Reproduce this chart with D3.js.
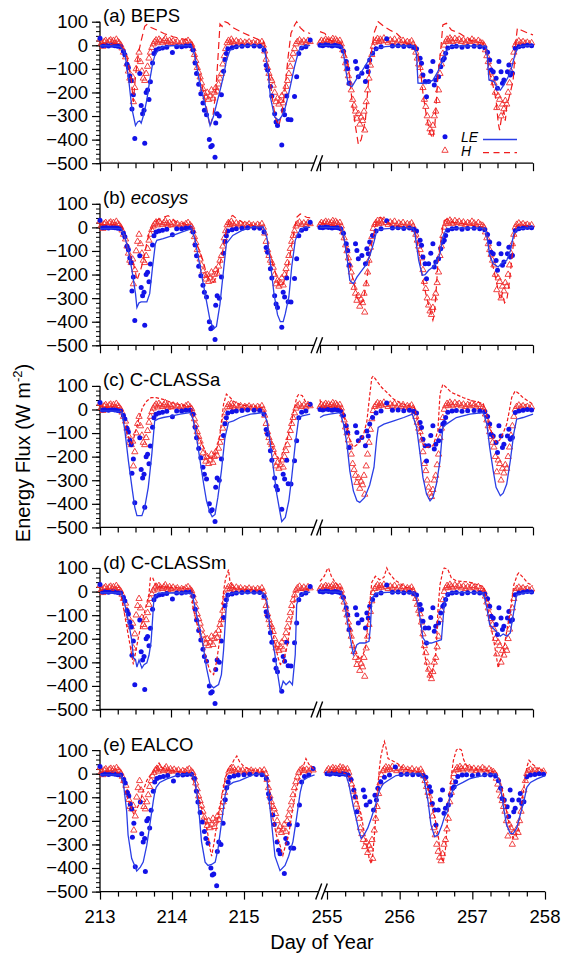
<!DOCTYPE html>
<html>
<head>
<meta charset="utf-8">
<script src="https://cdn.jsdelivr.net/npm/d3@7"></script>
<style>
  body { margin: 0; background: #fff; }
  text { font-family: "Liberation Sans", Arial, sans-serif; }
</style>
</head>
<body>
<svg id="chart" width="563" height="960"></svg>
<script>
// ---- data: [day of year, flux W m-2] ----
var dayTicks = [213, 214, 215, 255, 256, 257, 258];
var fluxTicks = [100, 0, -100, -200, -300, -400, -500];

// observed latent heat (dots), same in every panel
var obsLE = [
  [213.00,30],[213.04,-2],[213.08,0],[213.12,-3],[213.17,0],[213.21,-2],[213.25,-4],[213.29,-6],[213.33,-25],
  [213.35,-40],[213.38,-80],[213.40,-95],[213.42,-130],[213.44,-150],[213.45,-270],[213.47,-210],[213.49,-395],
  [213.56,-120],[213.58,-255],[213.60,-290],[213.62,-275],[213.63,-415],[213.65,-200],[213.67,-190],[213.69,-230],
  [213.71,-155],[213.74,-75],[213.76,-35],[213.79,-20],[213.83,-15],[213.88,-12],[213.94,-8],[214.02,-31],[214.08,-6],
  [214.15,-6],[214.21,-3],[214.27,-2],
  [214.31,-20],[214.34,-75],[214.36,-120],[214.39,-165],[214.42,-205],[214.45,-245],[214.47,-275],[214.50,-295],
  [214.54,-400],[214.56,-430],[214.58,-425],[214.62,-475],[214.63,-330],[214.65,-290],[214.68,-300],[214.71,-210],
  [214.74,-110],[214.76,-60],[214.78,-35],[214.80,-15],[214.86,-10],[214.92,-6],[215.00,-4],[215.08,-2],[215.17,-3],[215.25,-4],
  [215.31,-20],[215.34,-85],[215.36,-105],[215.40,-175],[215.42,-215],[215.46,-290],[215.48,-325],[215.50,-340],
  [215.56,-423],[215.58,-275],[215.60,-295],[215.63,-215],[215.65,-315],[215.69,-316],[215.74,-217],[215.77,-133],
  [215.80,-35],[215.84,-12],[215.90,-6],[215.96,22],
  [255.00,0],[255.04,-2],[255.08,2],[255.12,0],[255.17,-3],[255.21,0],[255.25,-2],[255.29,-6],[255.33,-25],
  [255.37,-69],[255.39,-98],[255.41,-161],[255.50,-69],[255.52,-98],[255.54,-133],[255.59,-119],[255.64,-154],
  [255.66,-91],[255.68,-112],[255.70,-62],[255.74,-34],[255.79,-15],[255.86,-6],[255.94,28],
  [256.02,-3],[256.10,-2],[256.18,-5],[256.26,-3],[256.32,-8],
  [256.36,-15],[256.41,-55],[256.43,-76],[256.45,-126],[256.48,-154],[256.50,-218],[256.53,-154],[256.56,-110],
  [256.59,-69],[256.61,-168],[256.63,-147],[256.67,-133],[256.70,-91],[256.73,-62],[256.75,-55],[256.77,-34],
  [256.80,-12],[256.86,-6],[256.92,-4],[257.00,-8],[257.08,-5],[257.17,-4],[257.25,-6],[257.32,-10],
  [257.36,-30],[257.39,-62],[257.41,-105],[257.44,-112],[257.48,-140],[257.50,-182],[257.52,-69],[257.55,-112],
  [257.57,-161],[257.59,-147],[257.64,-112],[257.66,-84],[257.68,-126],[257.71,-119],[257.75,-13],[257.80,-6],
  [257.86,-3],[257.92,0],[257.98,-2]
];

// observed sensible heat (triangles), same in every panel
var obsH = [
  [213.00,25],[213.02,8],[213.04,-5],[213.06,15],[213.08,20],[213.10,10],[213.13,18],[213.15,22],[213.17,12],[213.19,20],
  [213.21,8],[213.23,25],[213.25,15],[213.27,10],[213.29,2],[213.31,-12],
  [213.33,-30],[213.36,-50],[213.38,-80],[213.40,-110],[213.42,-140],[213.44,-150],[213.46,-135],[213.47,-240],[213.49,-180],
  [213.51,-100],[213.53,-60],[213.55,-30],[213.57,-70],[213.59,-110],[213.61,-140],[213.63,-150],[213.65,-120],[213.67,-90],
  [213.69,-55],[213.71,-30],[213.73,-10],[213.75,5],
  [213.77,15],[213.79,22],[213.81,10],[213.83,25],[213.85,18],[213.88,12],[213.90,20],[213.92,28],[213.94,15],[213.96,8],
  [213.98,20],[214.00,12],[214.03,18],[214.06,10],[214.09,15],[214.12,5],[214.15,12],[214.18,8],[214.21,15],[214.24,20],
  [214.27,10],[214.29,3],
  [214.31,-15],[214.33,-40],[214.35,-65],[214.37,-95],[214.39,-115],[214.41,-135],[214.43,-160],[214.45,-185],[214.47,-205],
  [214.49,-220],[214.51,-200],[214.53,-230],[214.55,-215],[214.57,-190],[214.59,-225],[214.61,-200],[214.63,-180],[214.65,-195],
  [214.67,-165],[214.69,-140],[214.71,-120],[214.73,-80],[214.75,-45],[214.77,-15],[214.79,10],
  [214.81,20],[214.83,12],[214.85,25],[214.87,15],[214.89,8],[214.92,18],[214.95,10],[214.98,15],[215.01,5],[215.04,12],
  [215.07,8],[215.10,14],[215.13,6],[215.16,10],[215.19,4],[215.22,12],[215.25,6],[215.28,15],[215.30,0],
  [215.32,-25],[215.34,-60],[215.36,-95],[215.38,-120],[215.40,-140],[215.42,-150],[215.44,-170],[215.46,-200],[215.48,-240],
  [215.50,-225],[215.52,-250],[215.54,-235],[215.56,-215],[215.58,-245],[215.60,-200],[215.62,-175],[215.64,-150],[215.66,-120],
  [215.68,-90],[215.70,-60],[215.72,-35],[215.74,-15],[215.76,5],
  [215.78,15],[215.81,22],[215.84,12],[215.87,18],[215.90,10],[215.93,20],[215.96,15],
  [255.00,12],[255.02,20],[255.04,10],[255.06,18],[255.08,25],[255.10,15],[255.12,22],[255.14,12],[255.16,20],[255.18,28],
  [255.20,15],[255.22,25],[255.24,18],[255.26,10],[255.28,20],[255.30,5],
  [255.32,-20],[255.34,-45],[255.36,-75],[255.38,-100],[255.40,-130],[255.42,-160],[255.44,-190],[255.46,-230],[255.48,-255],
  [255.50,-280],[255.52,-310],[255.54,-290],[255.56,-335],[255.58,-305],[255.60,-320],[255.62,-280],[255.63,-360],[255.65,-240],
  [255.67,-190],[255.69,-140],[255.71,-85],[255.73,-40],[255.75,-5],[255.77,12],
  [255.79,20],[255.81,28],[255.83,15],[255.85,25],[255.87,18],[255.90,30],[255.93,20],[255.96,12],[255.99,22],[256.02,15],
  [256.05,25],[256.08,10],[256.11,18],[256.14,12],[256.17,20],[256.20,8],[256.23,15],[256.26,10],[256.29,18],[256.31,5],
  [256.33,-10],[256.35,-30],[256.37,-55],[256.39,-80],[256.41,-95],[256.43,-130],[256.45,-180],[256.47,-230],[256.49,-260],
  [256.51,-300],[256.53,-330],[256.55,-355],[256.57,-370],[256.59,-340],[256.61,-300],[256.63,-280],[256.65,-235],[256.67,-190],
  [256.69,-120],[256.71,-80],[256.73,-35],[256.75,0],[256.77,15],
  [256.79,25],[256.81,18],[256.83,30],[256.85,22],[256.87,15],[256.90,28],[256.93,20],[256.96,25],[256.99,15],[257.02,22],
  [257.05,12],[257.08,20],[257.11,15],[257.14,25],[257.17,18],[257.20,10],[257.23,20],[257.26,12],[257.29,8],[257.31,0],
  [257.33,-20],[257.35,-45],[257.37,-70],[257.39,-95],[257.41,-115],[257.43,-140],[257.45,-160],[257.47,-200],[257.49,-265],
  [257.51,-215],[257.53,-230],[257.55,-300],[257.57,-250],[257.59,-270],[257.61,-235],[257.63,-250],[257.65,-200],[257.67,-160],
  [257.69,-110],[257.71,-70],[257.73,-30],[257.75,0],
  [257.77,12],[257.80,18],[257.83,10],[257.86,15],[257.89,8],[257.92,12],[257.95,5],[257.98,10]
];

// modelled LE (solid) and H (dashed) per model
var bepsLE = [
  [213.00,-2],[213.10,-2],[213.20,-3],[213.28,-5],[213.33,-20],[213.35,-35],[213.40,-135],[213.45,-270],[213.50,-340],
  [213.53,-325],[213.56,-320],[213.58,-330],[213.62,-290],[213.66,-230],[213.70,-150],[213.74,-80],[213.77,-45],[213.82,-20],
  [213.89,-6],[214.00,-2],[214.15,0],[214.29,-2],
  [214.32,-30],[214.34,-55],[214.41,-170],[214.48,-250],[214.55,-340],[214.60,-300],[214.65,-240],[214.70,-180],[214.74,-130],
  [214.78,-65],[214.83,-22],[214.92,-6],[215.05,-2],[215.20,0],[215.30,-5],
  [215.33,-40],[215.37,-120],[215.40,-220],[215.46,-305],[215.52,-318],[215.56,-300],[215.60,-275],[215.65,-215],[215.69,-160],
  [215.74,-90],[215.80,-22],[215.85,-6],[215.96,0],
  [255.00,0],[255.15,0],[255.30,-3],[255.33,-30],[255.36,-100],[255.40,-168],[255.45,-175],[255.52,-140],[255.59,-110],
  [255.66,-76],[255.73,-36],[255.80,-14],[255.92,-6],[256.10,-2],[256.33,-3],
  [256.36,-40],[256.38,-160],[256.50,-162],[256.59,-148],[256.66,-112],[256.73,-62],[256.78,-22],[256.85,-6],[257.00,-2],[257.33,-5],
  [257.35,-20],[257.38,-147],[257.45,-154],[257.50,-182],[257.54,-190],[257.59,-168],[257.64,-140],[257.68,-118],[257.75,-34],
  [257.80,-6],[257.90,-2],[258.00,0]
];
var bepsH = [
  [213.00,5],[213.05,10],[213.12,0],[213.20,8],[213.28,5],[213.33,-15],[213.38,-50],[213.44,-147],[213.47,-240],[213.50,-130],
  [213.54,-35],[213.58,20],[213.63,80],[213.66,88],[213.72,75],[213.80,65],[213.90,50],[214.03,36],[214.15,28],[214.25,20],[214.29,15],
  [214.34,-35],[214.41,-133],[214.48,-232],[214.55,-345],[214.59,-300],[214.63,-200],[214.66,-60],[214.69,90],[214.72,80],
  [214.76,100],[214.80,95],[214.87,75],[215.00,55],[215.15,35],[215.25,22],[215.30,20],
  [215.35,-55],[215.40,-160],[215.45,-270],[215.48,-316],[215.52,-340],[215.56,-290],[215.60,-200],[215.65,-48],[215.69,51],
  [215.74,85],[215.77,100],[215.82,75],[215.88,58],[215.96,50],
  [255.00,58],[255.07,50],[255.12,25],[255.20,12],[255.30,8],[255.35,-30],[255.40,-90],[255.45,-232],[255.50,-345],[255.54,-420],
  [255.58,-400],[255.64,-316],[255.67,-200],[255.71,-62],[255.76,51],[255.82,100],[255.90,80],[256.00,62],[256.08,50],[256.22,8],[256.35,0],
  [256.41,-90],[256.45,-203],[256.50,-302],[256.55,-373],[256.59,-395],[256.62,-330],[256.66,-133],[256.70,-20],[256.73,86],
  [256.78,93],[256.85,65],[256.97,50],[257.11,22],[257.30,8],
  [257.35,-34],[257.39,-119],[257.44,-175],[257.48,-232],[257.51,-330],[257.53,-360],[257.56,-300],[257.59,-280],[257.61,-320],
  [257.63,-260],[257.68,-200],[257.72,-150],[257.76,22],[257.78,72],[257.83,65],[257.94,50],[258.00,44]
];
var ecosysLE = [
  [213.00,-5],[213.15,-4],[213.30,-5],[213.35,-41],[213.40,-98],[213.45,-182],[213.50,-281],[213.52,-340],[213.55,-320],
  [213.58,-316],[213.66,-316],[213.70,-281],[213.74,-168],[213.78,-69],[213.80,-55],[213.89,-48],[214.03,-34],[214.15,-20],[214.29,-5],
  [214.34,-55],[214.41,-168],[214.48,-281],[214.55,-394],[214.60,-430],[214.64,-420],[214.69,-324],[214.74,-182],[214.78,-69],
  [214.87,-34],[215.00,-13],[215.15,1],[215.30,2],
  [215.35,-41],[215.40,-150],[215.45,-280],[215.50,-370],[215.54,-400],[215.58,-400],[215.61,-366],[215.66,-295],[215.70,-168],
  [215.75,-55],[215.80,-20],[215.87,0],[215.96,0],
  [255.00,0],[255.15,0],[255.30,-3],[255.33,-27],[255.38,-126],[255.42,-225],[255.47,-239],[255.52,-211],[255.59,-182],
  [255.66,-154],[255.71,-112],[255.76,-62],[255.80,-13],[255.90,-6],[256.10,-2],[256.31,-3],
  [256.34,-34],[256.39,-140],[256.44,-203],[256.48,-200],[256.53,-182],[256.59,-168],[256.64,-150],[256.69,-112],[256.73,-41],
  [256.78,-6],[257.00,-2],[257.32,-3],
  [257.35,-34],[257.39,-119],[257.44,-154],[257.51,-168],[257.55,-154],[257.63,-140],[257.68,-100],[257.73,-27],[257.78,-6],[258.00,0]
];
var ecosysH = [
  [213.00,12],[213.10,10],[213.20,12],[213.30,5],[213.33,-13],[213.38,-83],[213.43,-126],[213.47,-154],[213.50,-190],[213.52,-225],
  [213.57,-182],[213.61,-140],[213.65,-80],[213.69,-27],[213.74,1],[213.80,29],[213.89,43],[213.96,50],[214.08,22],[214.27,8],
  [214.31,-13],[214.38,-83],[214.45,-140],[214.50,-197],[214.55,-225],[214.60,-232],[214.64,-210],[214.69,-154],[214.74,-83],
  [214.78,-13],[214.83,43],[214.87,50],[214.93,35],[215.05,15],[215.20,5],[215.30,1],
  [215.35,-45],[215.40,-126],[215.45,-170],[215.50,-225],[215.54,-253],[215.58,-240],[215.63,-197],[215.68,-112],[215.72,-41],
  [215.77,43],[215.82,57],[215.91,43],[215.96,40],
  [255.00,20],[255.10,12],[255.20,8],[255.28,5],[255.33,-41],[255.38,-100],[255.42,-168],[255.47,-225],[255.52,-295],[255.57,-324],
  [255.61,-310],[255.65,-240],[255.69,-154],[255.72,-80],[255.76,-27],[255.80,36],[255.85,43],[255.92,30],[256.00,12],[256.22,0],[256.32,-5],
  [256.36,-41],[256.41,-140],[256.45,-225],[256.50,-295],[256.55,-352],[256.59,-394],[256.61,-370],[256.64,-250],[256.66,-154],
  [256.69,-83],[256.73,1],[256.75,29],[256.80,35],[256.88,20],[257.10,12],[257.30,0],
  [257.35,-34],[257.39,-112],[257.44,-170],[257.48,-225],[257.54,-309],[257.57,-280],[257.60,-320],[257.63,-309],[257.66,-250],
  [257.70,-140],[257.73,-50],[257.76,1],[257.80,15],[257.88,8],[258.00,0]
];
var classaLE = [
  [213.00,-6],[213.15,-6],[213.28,-8],[213.31,-13],[213.35,-90],[213.40,-218],[213.45,-330],[213.49,-415],[213.52,-450],
  [213.59,-450],[213.63,-415],[213.68,-330],[213.73,-189],[213.77,-48],[213.82,-40],[213.89,-34],[214.00,-28],[214.13,-20],[214.27,-13],
  [214.31,-41],[214.36,-119],[214.41,-218],[214.46,-316],[214.50,-387],[214.55,-437],[214.58,-455],[214.62,-445],[214.66,-373],
  [214.71,-260],[214.76,-119],[214.81,-55],[214.88,-48],[214.97,-34],[215.12,-20],[215.30,-13],
  [215.35,-48],[215.40,-147],[215.44,-246],[215.49,-359],[215.54,-444],[215.56,-475],[215.61,-458],[215.66,-387],[215.70,-288],
  [215.75,-147],[215.80,-34],[215.85,-27],[215.96,-20],
  [255.00,-34],[255.05,-25],[255.14,-20],[255.28,-13],[255.33,-60],[255.38,-147],[255.42,-260],[255.47,-345],[255.52,-387],
  [255.56,-394],[255.63,-373],[255.70,-320],[255.76,-246],[255.80,-119],[255.82,-76],[255.90,-62],[256.04,-48],[256.18,-34],[256.30,-20],
  [256.36,-76],[256.41,-189],[256.45,-288],[256.50,-359],[256.55,-387],[256.59,-373],[256.64,-316],[256.69,-218],[256.73,-76],
  [256.78,-62],[256.92,-34],[257.11,-20],[257.30,-13],
  [257.35,-62],[257.39,-161],[257.44,-260],[257.48,-330],[257.54,-366],[257.58,-355],[257.63,-316],[257.68,-218],[257.73,-100],
  [257.77,-41],[257.86,-34],[258.00,-20]
];
var classaH = [
  [213.00,15],[213.10,8],[213.20,12],[213.28,5],[213.33,-40],[213.38,-100],[213.42,-130],[213.45,-150],[213.49,-105],[213.54,-48],
  [213.60,10],[213.66,36],[213.72,50],[213.79,50],[213.89,43],[214.00,30],[214.15,18],[214.28,12],
  [214.31,-34],[214.38,-110],[214.46,-161],[214.50,-190],[214.55,-210],[214.60,-200],[214.65,-160],[214.69,-105],[214.74,22],
  [214.78,65],[214.82,55],[214.88,35],[214.98,20],[215.15,12],[215.30,8],
  [215.35,-50],[215.40,-133],[215.45,-175],[215.50,-200],[215.54,-218],[215.58,-170],[215.63,-133],[215.68,-76],[215.72,-20],
  [215.77,51],[215.80,65],[215.85,58],[215.90,30],[215.96,20],
  [255.00,43],[255.02,5],[255.10,10],[255.20,12],[255.30,5],[255.33,-20],[255.38,-76],[255.42,-130],[255.47,-160],[255.52,-150],
  [255.56,-135],[255.61,-110],[255.66,-50],[255.70,60],[255.73,135],[255.75,142],[255.80,121],[255.87,93],[255.95,70],[256.04,43],
  [256.18,22],[256.33,8],
  [256.36,-27],[256.41,-100],[256.45,-147],[256.50,-161],[256.55,-158],[256.59,-154],[256.63,-120],[256.66,-90],[256.69,65],
  [256.73,107],[256.78,93],[256.85,72],[256.93,62],[257.02,50],[257.11,40],[257.30,25],
  [257.35,-27],[257.39,-76],[257.44,-115],[257.48,-140],[257.53,-130],[257.58,-100],[257.63,-62],[257.67,0],[257.70,51],
  [257.75,79],[257.80,68],[257.86,50],[258.00,22]
];
var classmLE = [
  [213.00,-5],[213.15,-5],[213.30,-6],[213.33,-27],[213.40,-126],[213.45,-211],[213.47,-281],[213.50,-288],[213.52,-320],
  [213.55,-290],[213.59,-324],[213.62,-310],[213.66,-302],[213.69,-270],[213.72,-211],[213.76,-27],[213.82,-8],[213.89,-6],
  [214.10,-5],[214.29,-6],
  [214.31,-27],[214.38,-126],[214.45,-225],[214.50,-324],[214.55,-394],[214.60,-408],[214.67,-394],[214.71,-352],[214.74,-250],
  [214.78,-55],[214.81,-13],[214.90,-5],[215.10,-5],[215.30,-6],
  [215.35,-41],[215.40,-170],[215.46,-260],[215.50,-345],[215.54,-422],[215.58,-380],[215.62,-395],[215.67,-380],[215.71,-395],
  [215.75,-267],[215.77,-55],[215.80,-27],[215.86,-6],[215.96,-2],
  [255.00,0],[255.15,-1],[255.30,-3],[255.35,-55],[255.40,-154],[255.47,-267],[255.52,-225],[255.56,-218],[255.63,-218],
  [255.69,-211],[255.71,-150],[255.73,-27],[255.80,-6],[256.00,-2],[256.33,-5],
  [256.36,-30],[256.41,-112],[256.45,-196],[256.50,-218],[256.57,-218],[256.64,-211],[256.71,-204],[256.75,-55],[256.80,-6],
  [257.00,-3],[257.30,-5],
  [257.35,-69],[257.39,-140],[257.48,-168],[257.54,-189],[257.58,-180],[257.63,-189],[257.68,-175],[257.73,-83],[257.77,-13],
  [257.88,-5],[258.00,-2]
];
var classmH = [
  [213.00,5],[213.10,10],[213.20,5],[213.28,8],[213.33,-69],[213.38,-154],[213.43,-239],[213.47,-309],[213.50,-260],[213.55,-180],
  [213.60,-120],[213.65,-60],[213.69,-10],[213.71,58],[213.74,60],[213.78,30],[213.85,20],[214.00,18],[214.15,15],[214.29,10],
  [214.31,-69],[214.38,-154],[214.45,-225],[214.50,-290],[214.55,-338],[214.60,-352],[214.64,-300],[214.69,-197],[214.72,-90],
  [214.74,1],[214.77,58],[214.79,72],[214.81,93],[214.83,43],[214.88,15],[215.00,10],[215.15,8],[215.30,5],
  [215.33,-27],[215.38,-120],[215.42,-154],[215.47,-230],[215.51,-282],[215.54,-309],[215.58,-300],[215.63,-240],[215.68,-150],
  [215.72,-83],[215.75,1],[215.80,5],[215.90,8],[215.96,5],
  [255.00,43],[255.06,65],[255.10,93],[255.12,100],[255.16,65],[255.22,35],[255.28,22],[255.33,-20],[255.38,-80],[255.42,-154],
  [255.47,-225],[255.52,-267],[255.56,-288],[255.60,-270],[255.64,-240],[255.67,-150],[255.71,-20],[255.73,40],[255.78,65],
  [255.84,50],[255.90,60],[255.94,100],[255.97,80],[256.05,50],[256.20,20],[256.31,10],
  [256.36,-41],[256.41,-126],[256.45,-225],[256.50,-309],[256.55,-366],[256.58,-345],[256.62,-290],[256.64,-230],[256.66,-83],
  [256.69,29],[256.73,86],[256.75,100],[256.80,95],[256.85,58],[256.92,45],[257.10,40],[257.30,22],
  [257.35,-41],[257.39,-126],[257.44,-195],[257.48,-267],[257.51,-324],[257.54,-290],[257.58,-260],[257.63,-168],[257.68,-83],
  [257.73,29],[257.78,72],[257.80,79],[257.86,60],[257.93,35],[258.00,25]
];
var ealcoLE = [
  [213.00,-5],[213.15,-5],[213.28,-5],[213.32,-29],[213.37,-158],[213.39,-260],[213.44,-360],[213.49,-396],[213.51,-413],
  [213.56,-396],[213.60,-375],[213.65,-303],[213.70,-200],[213.74,-116],[213.76,-80],[213.78,-58],[213.83,-37],[213.93,-22],
  [214.06,-8],[214.27,0],
  [214.32,-29],[214.37,-144],[214.41,-288],[214.46,-375],[214.50,-389],[214.55,-385],[214.60,-375],[214.64,-317],[214.69,-202],
  [214.74,-87],[214.78,-51],[214.85,-37],[214.94,-29],[215.05,-15],[215.13,-4],[215.27,0],
  [215.32,-30],[215.38,-200],[215.43,-350],[215.50,-411],[215.57,-389],[215.62,-350],[215.68,-288],[215.73,-187],[215.78,-80],
  [215.82,-29],[215.89,-15],[215.98,-5],
  [255.00,0],[255.15,-2],[255.26,-5],[255.30,-44],[255.37,-150],[255.40,-188],[255.44,-245],[255.47,-274],[255.51,-259],
  [255.56,-231],[255.61,-188],[255.67,-130],[255.72,-72],[255.77,-44],[255.84,-29],[255.95,-8],[256.10,-2],[256.29,0],
  [256.34,-29],[256.39,-116],[256.43,-216],[256.48,-267],[256.53,-259],[256.58,-220],[256.62,-180],[256.66,-159],[256.69,-101],
  [256.74,-65],[256.78,-51],[256.87,-37],[256.96,-22],[257.05,-15],[257.20,-5],[257.33,0],
  [257.38,-44],[257.43,-144],[257.47,-216],[257.52,-252],[257.56,-255],[257.61,-231],[257.66,-173],[257.71,-116],[257.75,-58],
  [257.80,-37],[257.89,-22],[258.00,-8]
];
var ealcoH = [
  [213.00,5],[213.10,10],[213.20,5],[213.28,3],[213.33,-58],[213.40,-116],[213.44,-150],[213.47,-173],[213.51,-150],[213.56,-116],
  [213.60,-72],[213.65,-29],[213.70,-5],[213.74,6],[213.79,28],[213.82,45],[213.86,25],[213.93,15],[214.05,10],[214.20,5],[214.28,3],
  [214.30,-29],[214.37,-101],[214.42,-160],[214.46,-200],[214.50,-260],[214.53,-320],[214.55,-350],[214.58,-300],[214.62,-220],
  [214.66,-150],[214.70,-80],[214.74,-20],[214.78,20],[214.83,40],[214.86,58],[214.90,75],[214.94,50],[215.00,30],[215.10,15],[215.27,8],
  [215.33,-29],[215.37,-100],[215.40,-188],[215.45,-260],[215.50,-303],[215.54,-346],[215.58,-300],[215.62,-260],[215.67,-160],
  [215.72,-72],[215.77,-15],[215.82,28],[215.86,64],[215.90,40],[215.95,25],[215.99,14],
  [255.00,6],[255.10,10],[255.22,5],[255.32,-15],[255.37,-60],[255.42,-116],[255.47,-173],[255.51,-245],[255.56,-317],[255.58,-360],
  [255.61,-382],[255.63,-340],[255.65,-270],[255.67,-188],[255.69,-87],[255.72,20],[255.74,71],[255.77,114],[255.79,136],[255.82,100],
  [255.84,64],[255.90,55],[255.97,43],[256.05,25],[256.15,12],[256.29,6],
  [256.34,-15],[256.39,-60],[256.43,-116],[256.48,-180],[256.53,-259],[256.55,-317],[256.58,-360],[256.60,-375],[256.63,-320],
  [256.66,-187],[256.69,-87],[256.71,-10],[256.74,57],[256.78,100],[256.81,107],[256.85,100],[256.88,60],[256.92,35],[257.05,20],[257.33,6],
  [257.38,-29],[257.43,-90],[257.47,-159],[257.52,-231],[257.56,-274],[257.60,-265],[257.63,-240],[257.66,-173],[257.71,-58],
  [257.75,28],[257.78,57],[257.83,40],[257.89,25],[258.00,8]
];

var panels = [
  {tag: "(a) ", name: "BEPS",    italic: false, le: bepsLE,   h: bepsH,   dash: "7,4"},
  {tag: "(b) ", name: "ecosys",  italic: true,  le: ecosysLE, h: ecosysH, dash: "6,4"},
  {tag: "(c) ", name: "C-CLASSa",italic: false, le: classaLE, h: classaH, dash: "3.5,2"},
  {tag: "(d) ", name: "C-CLASSm",italic: false, le: classmLE, h: classmH, dash: "3.5,2"},
  {tag: "(e) ", name: "EALCO",   italic: false, le: ealcoLE,  h: ealcoH,  dash: "3.5,2"}
];

var blueDot = "#1212e8", blueLine = "#2a3ee6", red = "#f01c1c", redTri = "#ee3030";

var svg = d3.select("#chart");
var firstTop = 21.7, plotH = 141.5, pitch = 182.1;

var quarter = d3.range(0, 13).map(function(k){ return k / 4; });

panels.forEach(function(p, i){
  var top = firstTop + i * pitch;
  var bottom = top + plotH;
  var last = (i === panels.length - 1);

  var y = d3.scaleLinear().domain([-500, 100]).range([bottom, top]);
  var xl = d3.scaleLinear().domain([213, 216]).range(last ? [100, 316] : [100, 313]);
  var xr = d3.scaleLinear().domain([255, 258]).range(last ? [327, 545] : [320, 533]);
  var breakX = last ? 321.5 : 316.8;
  function x(d){ return d < 230 ? xl(d) : xr(d); }

  var g = svg.append("g").attr("class", "panel");

  // y axis, major + minor ticks
  g.append("g")
    .attr("transform", "translate(100,0)")
    .call(d3.axisLeft(y).tickValues(d3.range(-500, 101, 20)).tickSize(4).tickFormat(""))
    .call(function(a){ a.select(".domain").remove(); a.selectAll("line").attr("stroke-width", 1); });
  g.append("g")
    .attr("transform", "translate(100,0)")
    .call(d3.axisLeft(y).tickValues(fluxTicks).tickSize(8).tickPadding(4))
    .call(function(a){
      a.select(".domain").attr("stroke-width", 1.3).attr("d", "M0," + y(100) + "V" + y(-500));
      a.selectAll("line").attr("stroke-width", 1.2);
      a.selectAll("text").attr("font-size", 18.5).attr("font-family", "Liberation Sans, Arial, sans-serif").attr("fill", "#000");
    });

  // x axis: ticks on each segment, continuous line with a break mark
  [[xl, [213, 215.75]], [xr, [255, 258]]].forEach(function(seg){
    var vals = quarter.map(function(q){ return seg[1][0] + q; }).filter(function(v){ return v <= seg[1][1] + 1e-9; });
    g.append("g")
      .attr("transform", "translate(0," + bottom + ")")
      .call(d3.axisBottom(seg[0]).tickValues(vals).tickSize(0).tickFormat(""))
      .call(function(a){
        a.select(".domain").remove();
        a.selectAll(".tick line")
          .attr("y2", function(d){ return Math.abs(d - Math.round(d)) < 1e-6 ? 8 : 5; })
          .attr("stroke-width", 1.2);
      });
  });
  g.append("line")
    .attr("x1", xl(213)).attr("x2", xr(258))
    .attr("y1", bottom).attr("y2", bottom)
    .attr("stroke", "#000").attr("stroke-width", 1.3);
  g.append("rect")
    .attr("x", breakX - 2.5).attr("y", bottom - 3).attr("width", 5).attr("height", 6)
    .attr("fill", "#fff");
  [-2.8, 2.8].forEach(function(o){
    g.append("line")
      .attr("x1", breakX + o - 3).attr("y1", bottom + 8)
      .attr("x2", breakX + o + 3).attr("y2", bottom - 8)
      .attr("stroke", "#000").attr("stroke-width", 1.4);
  });

  if (last) {
    g.selectAll(".daylab").data(dayTicks).enter().append("text")
      .attr("x", function(d){ return x(d); })
      .attr("y", bottom + 31)
      .attr("text-anchor", "middle")
      .attr("font-size", 18.5)
      .text(function(d){ return d; });
  }

  // panel label
  var lab = g.append("text").attr("x", 103).attr("y", top + 0.5).attr("font-size", 18.5);
  lab.append("tspan").text(p.tag);
  lab.append("tspan").attr("font-style", p.italic ? "italic" : "normal").text(p.name);

  // observations
  g.append("g").selectAll("path").data(obsH).enter().append("path")
    .attr("transform", function(d){ return "translate(" + x(d[0]) + "," + y(d[1]) + ")"; })
    .attr("d", d3.symbol(d3.symbolTriangle, 17)())
    .attr("fill", "none").attr("stroke", redTri).attr("stroke-width", 0.9);
  g.append("g").selectAll("circle").data(obsLE).enter().append("circle")
    .attr("cx", function(d){ return x(d[0]); })
    .attr("cy", function(d){ return y(d[1]); })
    .attr("r", 2.5).attr("fill", blueDot);

  // model lines, left and right segments
  var line = d3.line().x(function(d){ return x(d[0]); }).y(function(d){ return y(d[1]); });
  [p.h, p.le].forEach(function(series, k){
    [series.filter(function(d){ return d[0] < 230; }), series.filter(function(d){ return d[0] >= 230; })]
      .forEach(function(part){
        g.append("path").datum(part)
          .attr("d", line)
          .attr("fill", "none")
          .attr("stroke", k === 0 ? red : blueLine)
          .attr("stroke-width", k === 0 ? 1.2 : 1.3)
          .attr("stroke-dasharray", k === 0 ? p.dash : null);
      });
  });

  // legend in first panel
  if (i === 0) {
    var lg = g.append("g");
    lg.append("circle").attr("cx", 445).attr("cy", 136.7).attr("r", 2.5).attr("fill", blueDot);
    lg.append("text").attr("x", 461).attr("y", 141.5).attr("font-size", 14).attr("font-style", "italic").text("LE");
    lg.append("line").attr("x1", 483).attr("x2", 517).attr("y1", 139.5).attr("y2", 139.5)
      .attr("stroke", blueLine).attr("stroke-width", 1.3);
    lg.append("path").attr("transform", "translate(445,150.5)")
      .attr("d", d3.symbol(d3.symbolTriangle, 17)())
      .attr("fill", "none").attr("stroke", redTri).attr("stroke-width", 0.9);
    lg.append("text").attr("x", 461).attr("y", 156).attr("font-size", 14).attr("font-style", "italic").text("H");
    lg.append("line").attr("x1", 483).attr("x2", 517).attr("y1", 152.7).attr("y2", 152.7)
      .attr("stroke", red).attr("stroke-width", 1.2).attr("stroke-dasharray", "6,4.5");
  }
});

// axis titles
svg.append("text")
  .attr("x", 322).attr("y", 949)
  .attr("text-anchor", "middle")
  .attr("font-size", 20)
  .text("Day of Year");

var yt = svg.append("text")
  .attr("transform", "translate(30,453) rotate(-90)")
  .attr("text-anchor", "middle")
  .attr("font-size", 20);
yt.append("tspan").text("Energy Flux (W m");
yt.append("tspan").attr("font-size", 13).attr("dy", -8).text("-2");
yt.append("tspan").attr("dy", 8).text(")");
</script>
</body>
</html>
